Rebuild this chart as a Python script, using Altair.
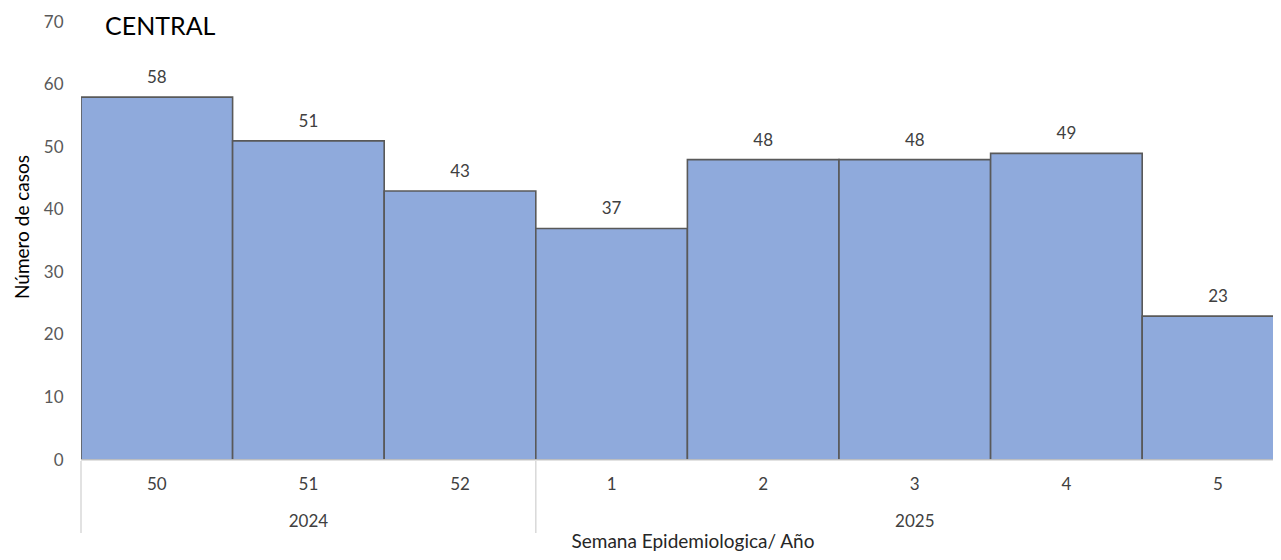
import altair as alt
import pandas as pd

weeks = ["50", "51", "52", "1", "2", "3", "4", "5"]
years = ["2024", "2024", "2024", "2025", "2025", "2025", "2025", "2025"]
cases = [58, 51, 43, 37, 48, 48, 49, 23]

year_labels = ["2024", "2025"]
year_start = [0, 3]
year_end = [3, 8]
separators = [0, 3, 8]

W = 1192
H = 438
BAR_PX = 151.6
FONT = "Lato"

df = pd.DataFrame({"week": weeks, "year": years, "cases": cases})
df["x0"] = range(len(df))
df["x1"] = df["x0"] + 1
df["xc"] = df["x0"] + 0.5

ydf = pd.DataFrame({"label": year_labels, "s": year_start, "e": year_end})
ydf["xc"] = (ydf["s"] + ydf["e"]) / 2
sdf = pd.DataFrame({"x": separators})

xscale = alt.Scale(domain=[0, W / BAR_PX], nice=False, zero=False)
yscale = alt.Scale(domain=[0, 70], nice=False)

base = alt.Chart(df)

bars = base.mark_bar(color="#8FAADC", stroke="#595959", strokeWidth=1.6, clip=True).encode(
    x=alt.X("x0:Q", scale=xscale, axis=None),
    x2="x1:Q",
    y=alt.Y("cases:Q", scale=yscale,
            axis=alt.Axis(title=None, values=list(range(0, 71, 10)),
                          grid=False, domain=False, ticks=False, labelPadding=18,
                          labelFont=FONT, labelFontSize=17, labelColor="#595959")),
    y2=alt.datum(0),
)

labels = base.mark_text(font=FONT, fontSize=17, color="#404040", baseline="middle", dy=-19, clip=True).encode(
    x=alt.X("xc:Q", scale=xscale), y=alt.Y("cases:Q", scale=yscale), text="cases:Q"
)

baseline = alt.Chart(pd.DataFrame({"v": [0]})).mark_rule(color="#D9D9D9", strokeWidth=1.5).encode(
    y=alt.Y("v:Q", scale=yscale), x=alt.value(0), x2=alt.value(W)
)

week_text = base.mark_text(font=FONT, fontSize=17, color="#404040", baseline="middle").encode(
    x=alt.X("xc:Q", scale=xscale), y=alt.value(H + 25), text="week:N"
)

seps = alt.Chart(sdf).mark_rule(color="#D9D9D9", strokeWidth=1.5).encode(
    x=alt.X("x:Q", scale=xscale), y=alt.value(H + 1), y2=alt.value(H + 73)
)

year_text = alt.Chart(ydf).mark_text(font=FONT, fontSize=17, color="#404040", baseline="middle").encode(
    x=alt.X("xc:Q", scale=xscale), y=alt.value(H + 62), text="label:N"
)

xtitle = alt.Chart(pd.DataFrame({"t": ["Semana Epidemiologica/ Año"]})).mark_text(
    font=FONT, fontSize=19, color="#262626", baseline="alphabetic"
).encode(x=alt.value(612), y=alt.value(H + 88), text="t:N")

ytitle = alt.Chart(pd.DataFrame({"t": ["Número de casos"]})).mark_text(
    font=FONT, fontSize=19, color="#000000", baseline="middle", angle=270
).encode(x=alt.value(-58), y=alt.value(205), text="t:N")

central = alt.Chart(pd.DataFrame({"t": ["CENTRAL"]})).mark_text(
    font=FONT, fontSize=25, color="#000000", align="left", baseline="middle"
).encode(x=alt.value(24), y=alt.value(5), text="t:N")

chart = alt.layer(bars, baseline, labels, seps, week_text, year_text, xtitle, ytitle, central).properties(
    width=W, height=H,
    padding={"left": 73, "top": 14, "right": 0, "bottom": 92},
    autosize=alt.AutoSizeParams(type="none"),
).configure_view(stroke=None)

chart.save("out.html", embed_options={"renderer": "svg", "actions": False})
